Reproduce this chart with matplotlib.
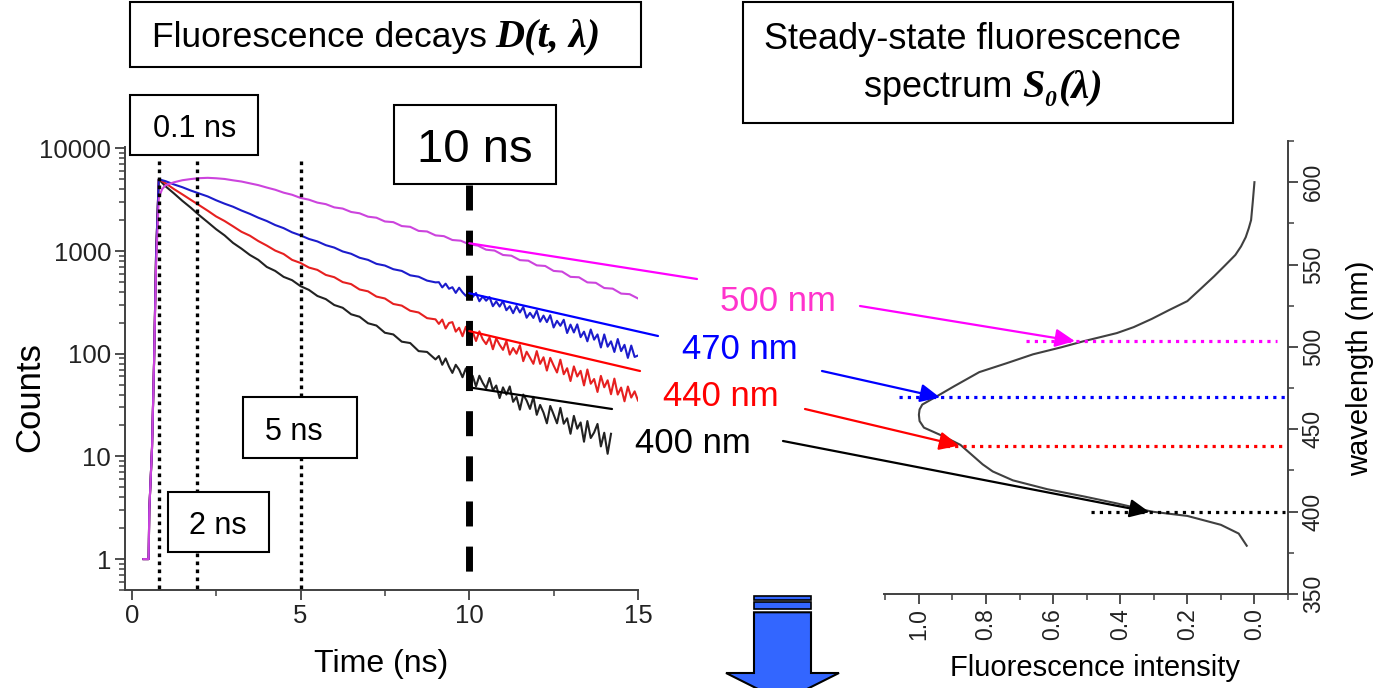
import numpy as np
import matplotlib.pyplot as plt
from matplotlib.patches import Rectangle, Polygon, ConnectionPatch
from matplotlib.text import Annotation
from matplotlib.ticker import MultipleLocator, LogLocator, NullFormatter

W, H = 1382, 688
sans = 'Liberation Sans'
serif = ['Liberation Serif', 'DejaVu Serif']


def px(x, y):
    # image pixel (y down) -> figure fraction
    return (x / W, 1 - y / H)


# ---- decay data (counts) ----
t_rise = [0.35, 0.50, 0.52, 0.60, 0.66, 0.72, 0.80]
rise_counts = [1, 1, 3, 12, 80, 900, 5000]
t_rise_500 = [0.35, 0.50, 0.52, 0.60, 0.66, 0.72, 0.80, 0.90]
rise_counts_500 = [1, 1, 3, 12, 80, 700, 3300, 4000]
t_early = np.arange(4, 37) / 4          # 1.00 ... 9.00 ns
t_tail = np.arange(91, 151) / 10        # 9.1 ... 15.0 ns
t_500 = np.arange(4, 61) / 4            # 1.00 ... 15.00 ns

early_400 = [4270, 3640, 3080, 2640, 2230, 1910, 1630, 1420, 1200, 1055, 915, 820,
             700, 640, 560, 520, 455, 418, 365, 340, 298, 280, 242, 229, 198, 188,
             160, 154, 131, 127, 106, 104, 88]
tail_400 = [95, 78, 90, 75, 65, 78, 70, 59, 72, 57, 61, 48, 61, 52, 46, 58, 44, 49, 37, 47,
            40, 48, 34, 38, 28.5, 40, 35, 29, 38, 25.4, 31.7, 26.7, 21, 31, 25.6, 21, 29.7,
            20.8, 23.5, 16.6, 24.8, 18.6, 21.4, 13.9, 22.1, 15.1, 17.1, 20.7, 12.5, 17,
            10.6, 16.6]
early_440 = [4570, 4010, 3560, 3150, 2790, 2470, 2170, 1960, 1740, 1540, 1410, 1250,
             1130, 1010, 935, 820, 765, 690, 655, 585, 556, 498, 476, 422, 405, 360,
             345, 305, 294, 262, 252, 222, 216]
tail_440 = [195, 215, 176, 199, 203, 164, 179, 148, 183, 152, 163, 133, 165, 138, 124, 144,
            110.5, 141, 122, 109, 133, 98, 113.5, 100, 121, 84.6, 104.5, 91.4, 79.7, 106,
            79.6, 92.3, 68.5, 91, 76.7, 65.6, 87.5, 63.1, 72.2, 54.2, 75.2, 60, 68.1, 49.1,
            70.2, 51, 56.7, 42.4, 60.8, 47.1, 55.1, 40.3, 57.2, 40, 46.8, 34.4, 47.9, 37.4,
            43, 35]
early_470 = [4790, 4450, 4180, 3880, 3630, 3400, 3120, 2890, 2700, 2480, 2300, 2110,
             1960, 1790, 1670, 1520, 1420, 1310, 1240, 1140, 1080, 990, 940, 860, 820,
             750, 722, 665, 640, 580, 562, 515, 495]
tail_470 = [497, 442, 481, 429, 444, 391, 439, 396, 366, 403, 356, 390, 324, 361, 328, 356,
            290, 323, 288, 325, 265, 290, 248, 291, 252, 285, 224, 250, 223, 263, 205, 235,
            203, 237, 180, 209, 187, 214, 159, 192, 161, 193, 145, 164, 132, 172, 137, 154,
            115, 154, 117, 132, 104, 139, 106, 122, 91, 120, 93, 96]
counts_500 = [4370, 4670, 4890, 5020, 5120, 5160, 5110, 5030, 4880, 4750, 4560, 4380,
              4150, 3950, 3700, 3530, 3290, 3160, 2960, 2860, 2660, 2590, 2400, 2330,
              2160, 2110, 1940, 1910, 1750, 1720, 1570, 1550, 1420, 1395, 1280, 1260,
              1160, 1130, 1030, 1010, 915, 900, 815, 805, 725, 715, 640, 630, 560, 555,
              495, 490, 436, 430, 385, 380, 345]

decay_colors = ['#222222', '#e62020', '#1c1ccc', '#cc44dd']
marker_times = [0.82, 1.94, 5.0]

count_ticks = [1, 10, 100, 1000, 10000]
count_labels = ['1', '10', '100', '1000', '10000']
time_ticks = [0, 5, 10, 15]

# ---- steady-state spectrum ----
wl = [379.3, 386.7, 392.0, 397.4, 400.0, 405.0, 409.3, 413.6, 419.0, 424.4, 428.7,
      440.5, 446.0, 451.0, 455.0, 458.8, 462.0, 465.0, 469.6, 476.0, 484.7, 490.0,
      495.5, 499.8, 503.4, 508.4, 512.0, 517.0, 522.4, 527.8, 535.3, 542.9, 549.4,
      555.8, 561.0, 566.6, 572.0, 577.0, 588.0, 600.0]
intensity = [0.023, 0.047, 0.10, 0.20, 0.306, 0.41, 0.51, 0.617, 0.72, 0.78, 0.81,
             0.876, 0.93, 0.985, 0.998, 1.0, 0.998, 0.99, 0.95, 0.896, 0.82, 0.74,
             0.66, 0.575, 0.51, 0.41, 0.36, 0.306, 0.254, 0.20, 0.16, 0.12, 0.088,
             0.057, 0.04, 0.026, 0.017, 0.01, 0.005, 0.0]
wl_ticks = [350, 400, 450, 500, 550, 600]
int_ticks = [1.0, 0.8, 0.6, 0.4, 0.2, 0.0]
int_labels = ['1.0', '0.8', '0.6', '0.4', '0.2', '0.0']

# ---- wavelength markers ----
label_names = ['500 nm', '470 nm', '440 nm', '400 nm']
label_colors = ['#ff33cc', '#0000ff', '#ff0000', '#000000']
line_colors = ['#ff00ff', '#0000ff', '#ff0000', '#000000']
marker_wl = [503.5, 469.3, 440.1, 399.7]
dot_start = [0.68, 1.06, 0.943, 0.487]
dot_end = [-0.068, -0.092, -0.092, -0.092]
anchor_counts = [1190, 388, 166, 47]       # decay value where the line leaves t = 10 ns
arrow_tip_int = [0.535, 0.937, 0.88, 0.313]

fig = plt.figure(figsize=(W / 100, H / 100), dpi=100)

# ---------------- decays ----------------
ax1 = fig.add_axes([125 / W, 1 - 590 / H, (638 - 125) / W, (590 - 147) / H])
ax1.set_yscale('log')
ax1.set_xlim(-0.2, 15)
ax1.set_ylim(0.5, 10300)

series = [(early_400, tail_400), (early_440, tail_440), (early_470, tail_470)]
for i, (early, tail) in enumerate(series):
    tt = t_rise + list(t_early) + list(t_tail[:len(tail)])
    cc = rise_counts + early + tail
    ax1.plot(tt, cc, color=decay_colors[i], lw=1.5, zorder=2)
ax1.plot(t_rise_500 + list(t_500), rise_counts_500 + counts_500, color=decay_colors[3],
         lw=1.5, zorder=2)

for t in marker_times:
    ax1.plot([t, t], [7600, 0.5], color='black', lw=2.4, ls=(0, (1.1, 1.3)), zorder=3)
ax1.plot([10, 10], [4360, 0.56], color='black', lw=5, ls=(0, (3.6, 2.9)), zorder=3)

for s in ['top', 'right']:
    ax1.spines[s].set_visible(False)
for s in ['left', 'bottom']:
    ax1.spines[s].set_color('#404040')
    ax1.spines[s].set_linewidth(1.4)
ax1.set_xticks(time_ticks)
ax1.set_xticklabels([str(v) for v in time_ticks])
ax1.xaxis.set_minor_locator(MultipleLocator(2.5))
ax1.set_yticks(count_ticks)
ax1.set_yticklabels(count_labels)
ax1.yaxis.set_minor_locator(LogLocator(base=10, subs=np.arange(2, 10)))
ax1.yaxis.set_minor_formatter(NullFormatter())
ax1.tick_params(which='major', direction='out', length=7, width=1.3, color='#404040',
                labelsize=18.5, labelcolor='#222222', pad=3)
ax1.tick_params(which='minor', direction='out', length=4, width=1.1, color='#404040')
for lbl in ax1.get_xticklabels() + ax1.get_yticklabels():
    lbl.set_family(sans)

# ---------------- spectrum ----------------
ax2 = fig.add_axes([884 / W, 1 - 594 / H, (1288 - 884) / W, (594 - 141) / H])
ax2.set_xlim(1.104, -0.10)
ax2.set_ylim(350, 625)
ax2.plot(intensity, wl, color='#404040', lw=1.5, zorder=2)
for i in range(4):
    ax2.plot([dot_start[i], dot_end[i]], [marker_wl[i], marker_wl[i]], color=line_colors[i],
             lw=2.3, ls=(0, (1, 1.6)), zorder=3, clip_on=False)

for s in ['top', 'left']:
    ax2.spines[s].set_visible(False)
for s in ['right', 'bottom']:
    ax2.spines[s].set_color('#404040')
    ax2.spines[s].set_linewidth(1.4)
ax2.yaxis.tick_right()
ax2.set_xticks(int_ticks)
ax2.set_xticklabels(int_labels)
ax2.xaxis.set_minor_locator(MultipleLocator(0.1))
ax2.set_yticks(wl_ticks)
ax2.set_yticklabels([str(v) for v in wl_ticks])
ax2.yaxis.set_minor_locator(MultipleLocator(25))
ax2.tick_params(which='major', direction='out', length=7, width=1.3, color='#404040',
                labelsize=16.5, labelcolor='#222222', pad=3)
ax2.tick_params(which='minor', direction='out', length=4, width=1.1, color='#404040')
ax2.tick_params(axis='both', labelrotation=90)
for lbl in ax2.get_yticklabels():
    lbl.set_va('center')
    lbl.set_family(sans)
for lbl in ax2.get_xticklabels():
    lbl.set_ha('center')
    lbl.set_family(sans)

# axis titles
fig.text(*px(30, 397), 'Counts', rotation=90, ha='center', va='center', fontsize=25, family=sans)
fig.text(*px(381, 664), 'Time (ns)', ha='center', va='center', fontsize=23, family=sans)
fig.text(*px(1095, 668), 'Fluorescence intensity', ha='center', va='center', fontsize=21, family=sans)
fig.text(*px(1360, 368), 'wavelength (nm)', rotation=90, ha='center', va='center', fontsize=21,
         family=sans)


# ---------------- boxes ----------------
def add_box(x0, y0, x1, y1):
    fig.add_artist(Rectangle(px(x0, y1), (x1 - x0) / W, (y1 - y0) / H, transform=fig.transFigure,
                             fc='white', ec='black', lw=1.5, zorder=5))


def chain(prev, s, dx=0, dy=0, xy_from=None, **kw):
    coords = prev if xy_from is None else (prev, xy_from)
    a = Annotation(s, xy=(1, 0), xycoords=coords, xytext=(dx, dy), textcoords='offset points',
                   ha='left', va='bottom', zorder=6, **kw)
    fig.add_artist(a)
    return a


add_box(130, 2, 641, 67)
t1 = fig.text(*px(152, 47), 'Fluorescence decays', ha='left', va='baseline', fontsize=25.5,
              family=sans, zorder=6)
chain(t1, 'D(t, λ)', dx=6, dy=-1, fontsize=29, family=serif, weight='bold', style='italic')

add_box(743, 2, 1233, 123)
fig.text(*px(973, 49), 'Steady-state fluorescence', ha='center', va='baseline', fontsize=26,
         family=sans, zorder=6)
t2 = fig.text(*px(864, 97), 'spectrum', ha='left', va='baseline', fontsize=26, family=sans, zorder=6)
s_txt = chain(t2, 'S', dx=7, dy=-1, fontsize=29, family=serif, weight='bold', style='italic')
sub = chain(s_txt, '0', dx=0, dy=-3, fontsize=17, family=serif, weight='bold', style='italic')
chain(sub, '(λ)', dx=1, xy_from=s_txt, fontsize=29, family=serif, weight='bold', style='italic')

box_specs = [((130, 95, 258, 155), '0.1 ns', (194.5, 136.7), 22),
             ((394, 105, 556, 184), '10 ns', (475, 161.7), 34),
             ((243, 397, 357, 458), '5 ns', (294, 440), 22),
             ((168, 492, 269, 552), '2 ns', (218, 534), 22)]
for rect, s, pos, fs in box_specs:
    add_box(*rect)
    fig.text(*px(*pos), s, ha='center', va='baseline', fontsize=fs, family=sans, zorder=6)

# ---------------- wavelength labels, lines and arrows ----------------
label_pos = [(778, 310.7), (740, 359.3), (721, 405.7), (693, 453.3)]
line_ends = [(697, 279), (658, 336), (640, 371), (612, 409)]
arrow_starts = [(860, 306), (822, 371), (805, 409), (783, 441)]
for i in range(4):
    fig.text(*px(*label_pos[i]), label_names[i], color=label_colors[i], ha='center',
             va='baseline', fontsize=25, family=sans, zorder=6)
    fig.add_artist(ConnectionPatch(xyA=(10, anchor_counts[i]), coordsA=ax1.transData,
                                   xyB=px(*line_ends[i]), coordsB=fig.transFigure,
                                   color=line_colors[i], lw=1.6, zorder=4))
    fig.add_artist(ConnectionPatch(xyA=px(*arrow_starts[i]), coordsA=fig.transFigure,
                                   xyB=(arrow_tip_int[i], marker_wl[i]), coordsB=ax2.transData,
                                   arrowstyle='-|>,head_length=0.6,head_width=0.28',
                                   mutation_scale=20, shrinkA=0, shrinkB=0,
                                   color=line_colors[i], lw=1.6, zorder=4))

# ---------------- blue block arrow ----------------
for y0, y1 in [(596, 599.5), (602, 609.3)]:
    fig.add_artist(Rectangle(px(754, y1), 57 / W, (y1 - y0) / H, transform=fig.transFigure,
                             fc='#3366ff', ec='black', lw=1.2, zorder=5))
body = [(754, 612.3), (811, 612.3), (811, 673), (839, 673), (782.5, 701.3), (726, 673), (754, 673)]
fig.add_artist(Polygon([px(x, y) for x, y in body], closed=True, transform=fig.transFigure,
                       fc='#3366ff', ec='black', lw=1.5, zorder=5))

fig.savefig('out.png', dpi=100)
